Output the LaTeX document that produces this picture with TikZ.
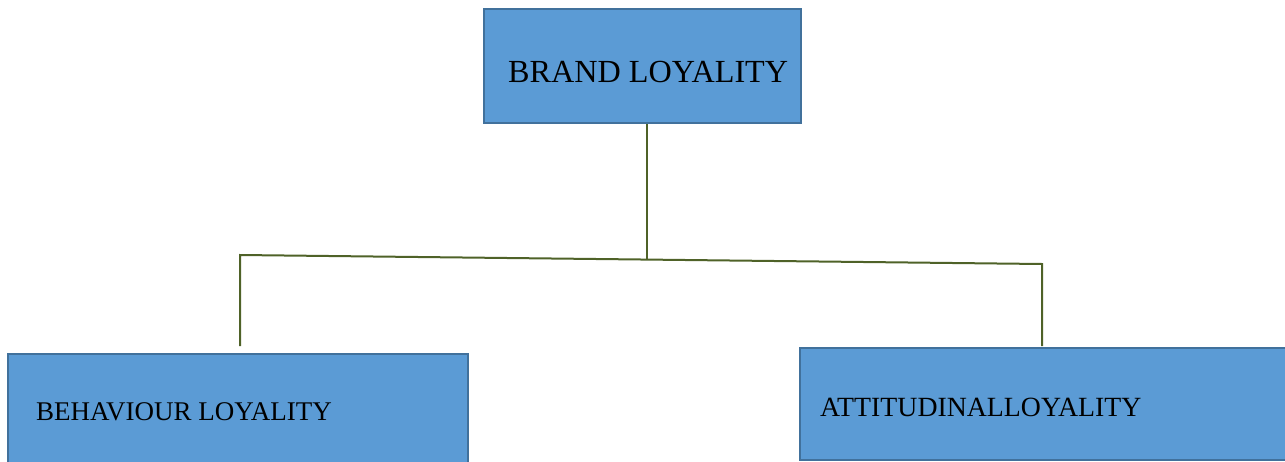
\documentclass[tikz,border=0pt]{standalone}
\usepackage{fontspec}
\setmainfont{Liberation Serif}
\usetikzlibrary{calc}
\definecolor{boxfill}{HTML}{5B9BD5}
\definecolor{boxline}{HTML}{41719C}
\definecolor{conn}{HTML}{4F6228}
\tikzset{
  box/.style={draw=boxline, fill=boxfill, line width=1.5pt, rectangle, inner sep=0pt},
  lbl/.style={anchor=base west, inner sep=0pt, text=black},
  link/.style={draw=conn, line width=2pt}
}
\begin{document}
\begin{tikzpicture}[x=1pt,y=-1pt]
\useasboundingbox (0,0) rectangle (1285,461);
% boxes
\node[box, minimum width=317pt, minimum height=114pt] (top) at (642.5,66) {};
\node[lbl, font=\fontsize{32.2}{36}\selectfont] (toptxt) at (508,82) {BRAND LOYALITY};
\node[box, minimum width=460pt, minimum height=114pt] (bl) at (238,411) {};
\node[lbl, font=\fontsize{27}{32}\selectfont] (bltxt) at (36,420) {BEHAVIOUR LOYALITY};
\node[box, minimum width=495pt, minimum height=112pt] (br) at (1047.5,404) {};
\node[lbl, font=\fontsize{27.8}{32}\selectfont] (brtxt) at (820,416) {ATTITUDINALLOYALITY};
% connectors
\coordinate (jl) at (240,255);
\coordinate (jr) at (1042,264);
\coordinate (lt) at (240,346);
\coordinate (rt) at (1042,346);
\coordinate (mid) at ($(jl)!0.5075!(jr)$);
\draw[link] (lt) -- (jl) -- (jr) -- (rt);
\draw[link] (top.south -| mid) -- (mid);
\end{tikzpicture}
\end{document}
